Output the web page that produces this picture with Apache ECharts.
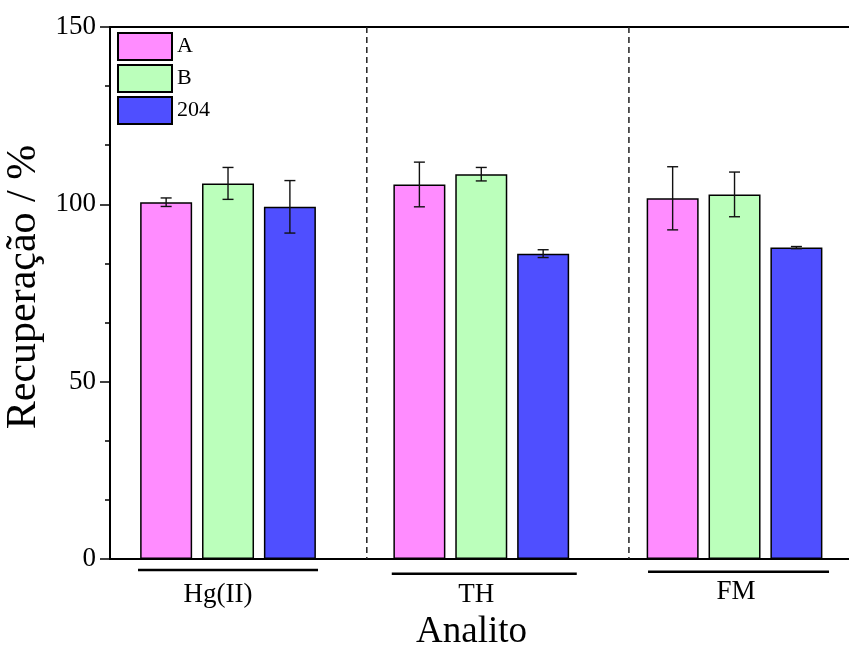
<!DOCTYPE html>
<html>
<head>
<meta charset="utf-8">
<script src="https://cdn.jsdelivr.net/npm/echarts@6/dist/echarts.min.js"></script>
<style>
  html, body { margin: 0; padding: 0; background: #fff; }
  #chart { width: 849px; height: 649px; }
</style>
</head>
<body>
<div id="chart"></div>
<script>
// ---- data ----
const categories = ['Hg(II)', 'TH', 'FM'];
const seriesNames = ['A', 'B', '204'];
const valuesA = [100.6, 105.6, 101.7];
const errorsA = [1.2, 6.3, 8.9];
const valuesB = [105.9, 108.5, 102.8];
const errorsB = [4.5, 1.9, 6.3];
const values204 = [99.3, 86.1, 87.8];
const errors204 = [7.4, 1.1, 0.3];
const yTicks = [0, 50, 100, 150];
// dashed group separators, in analyte-index units along the x axis
const separators = [0.548, 1.583];

// ---- styling ----
const FONT = '"Liberation Serif", "Times New Roman", serif';
const colors = ['#FF8CFF', '#BBFFBB', '#4F4FFF'];
const BAR_W = 52;
const BAR_GAP = 0.19;
// visible x range (analyte index units); the frame runs off the right edge
const X_MIN = -0.466;
const X_MAX = 2.452;
// per-analyte underline placement below the axis (pixels)
const underline = [
  { dy: 11, half: 90, dx: 0 },
  { dy: 14.7, half: 92.5, dx: 3 },
  { dy: 12.7, half: 90.5, dx: 4 }
];
// per-analyte label nudges [top, right, bottom, left]
const labelPad = [[3, 20, 0, 0], [3, 10, 0, 0], [0, 0, 0, 3]];

const chart = echarts.init(document.getElementById('chart'), null, { renderer: 'canvas' });

const indexOf = arr => arr.map((v, i) => [i, v]);

function barSeries(idx, values) {
  return {
    type: 'bar',
    name: seriesNames[idx],
    barWidth: BAR_W,
    barGap: (BAR_GAP * 100) + '%',
    data: indexOf(values),
    itemStyle: { color: colors[idx], borderColor: '#000', borderWidth: 1.5 },
    emphasis: { disabled: true }
  };
}

function errorBars(seriesIdx, values, errors) {
  const step = BAR_W * (1 + BAR_GAP);
  return {
    type: 'custom',
    name: seriesNames[seriesIdx] + ' err',
    z: 5,
    silent: true,
    data: values.map((v, i) => [i, v, errors[i]]),
    renderItem(params, api) {
      const i = api.value(0), v = api.value(1), e = api.value(2);
      const hi = api.coord([i, v + e]);
      const lo = api.coord([i, v - e]);
      const x = hi[0] + (seriesIdx - 1) * step;
      const cap = 5.5;
      const st = { stroke: '#111', lineWidth: 1.4 };
      return {
        type: 'group',
        children: [
          { type: 'line', shape: { x1: x, y1: hi[1], x2: x, y2: lo[1] }, style: st },
          { type: 'line', shape: { x1: x - cap, y1: hi[1], x2: x + cap, y2: hi[1] }, style: st },
          { type: 'line', shape: { x1: x - cap, y1: lo[1], x2: x + cap, y2: lo[1] }, style: st }
        ]
      };
    }
  };
}

const rich = {};
categories.forEach((c, i) => {
  rich['c' + i] = { fontFamily: FONT, fontSize: 27, color: '#000', padding: labelPad[i] };
});

const option = {
  animation: false,
  backgroundColor: '#fff',
  grid: { left: 110, top: 27, width: 739, height: 532, outerBoundsMode: 'none', containLabel: false },
  legend: {
    data: seriesNames,
    orient: 'vertical',
    left: 117,
    top: 32,
    padding: 0,
    itemWidth: 54,
    itemHeight: 27,
    itemGap: 3,
    icon: 'rect',
    textStyle: { fontFamily: FONT, fontSize: 22, color: '#000' }
  },
  xAxis: [
    {
      type: 'value', position: 'bottom', min: X_MIN, max: X_MAX,
      axisLine: { show: true, onZero: false, lineStyle: { color: '#000', width: 2 } },
      axisTick: { show: false }, splitLine: { show: false },
      axisLabel: {
        customValues: categories.map((c, i) => i),
        margin: 19,
        formatter: v => '{c' + v + '|' + categories[v] + '}',
        rich: rich
      },
      name: 'Analito', nameLocation: 'middle', nameGap: 55,
      nameTextStyle: { fontFamily: FONT, fontSize: 37, color: '#000', padding: [0, 16, 0, 0] }
    },
    {
      // top frame line
      type: 'value', position: 'top', min: X_MIN, max: X_MAX,
      axisLine: { show: true, onZero: false, lineStyle: { color: '#000', width: 2 } },
      axisTick: { show: false }, axisLabel: { show: false }, splitLine: { show: false }
    }
  ],
  yAxis: {
    type: 'value', position: 'left', min: yTicks[0], max: yTicks[yTicks.length - 1],
    interval: yTicks[1] - yTicks[0],
    axisLine: { show: true, onZero: false, lineStyle: { color: '#000', width: 2 } },
    axisTick: { show: true, inside: false, length: 10, lineStyle: { color: '#000', width: 1.5 } },
    minorTick: { show: true, splitNumber: 3, length: 5, lineStyle: { color: '#000', width: 1.5 } },
    splitLine: { show: false },
    axisLabel: { margin: 14, fontFamily: FONT, fontSize: 27, color: '#000' },
    name: 'Recuperação / %', nameLocation: 'middle', nameGap: 58,
    nameTextStyle: { fontFamily: FONT, fontSize: 42, color: '#000', padding: [0, 0, 0, 12] }
  },
  series: [
    barSeries(0, valuesA),
    barSeries(1, valuesB),
    barSeries(2, values204),
    errorBars(0, valuesA, errorsA),
    errorBars(1, valuesB, errorsB),
    errorBars(2, values204, errors204),
    {
      // dashed separators between analyte groups
      type: 'custom', silent: true, z: 1,
      data: separators.map(s => [s]),
      renderItem(params, api) {
        const top = api.coord([api.value(0), yTicks[yTicks.length - 1]]);
        const bot = api.coord([api.value(0), yTicks[0]]);
        return {
          type: 'line',
          shape: { x1: top[0], y1: top[1], x2: bot[0], y2: bot[1] },
          style: { stroke: '#222', lineWidth: 1.5, lineDash: [6, 4] }
        };
      }
    },
    {
      // group underlines beneath the analyte labels
      type: 'custom', silent: true,
      data: categories.map((c, i) => [i, 0]),
      renderItem(params, api) {
        const i = api.value(0);
        const p = api.coord([i, 0]);
        const u = underline[i];
        const y = p[1] + u.dy;
        return {
          type: 'line',
          shape: { x1: p[0] + u.dx - u.half, y1: y, x2: p[0] + u.dx + u.half, y2: y },
          style: { stroke: '#000', lineWidth: 2.5 }
        };
      }
    }
  ]
};

chart.setOption(option);
</script>
</body>
</html>
